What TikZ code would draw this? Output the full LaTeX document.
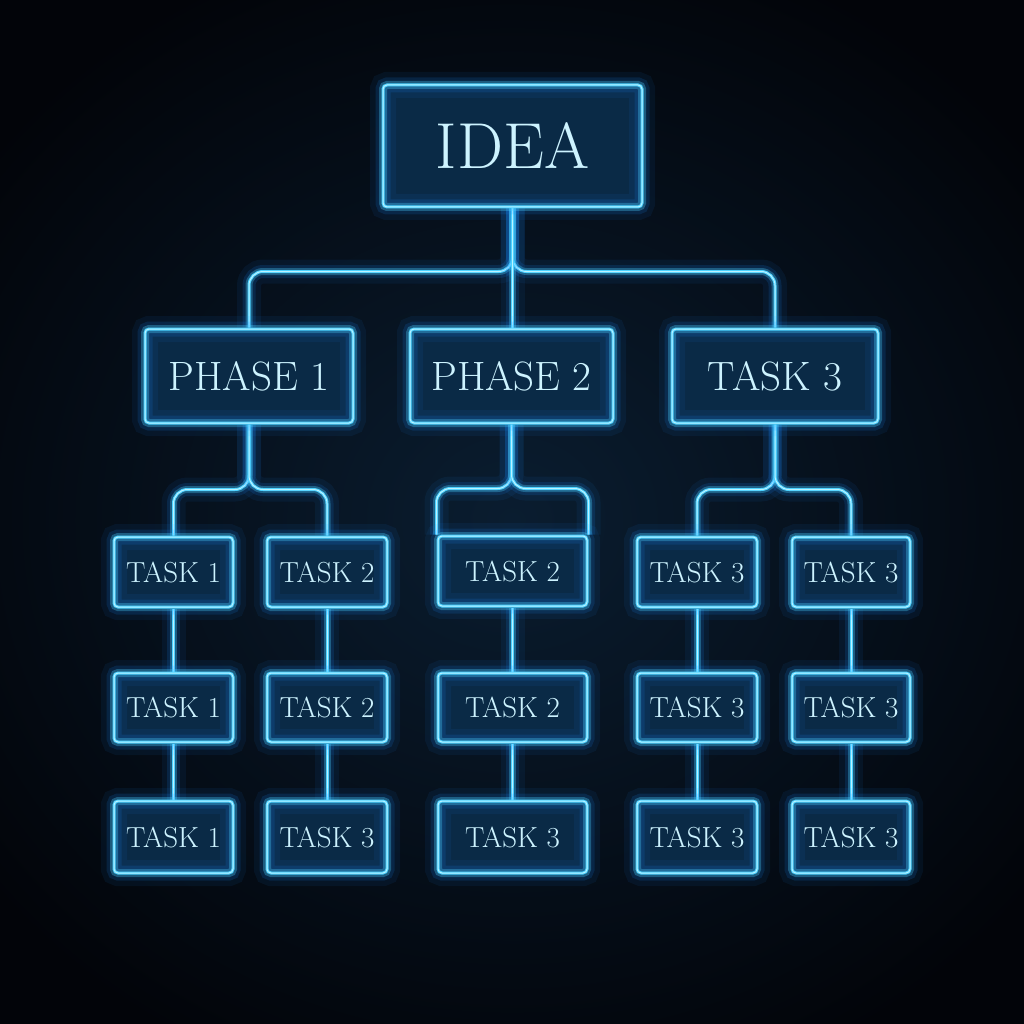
\documentclass[tikz,border=0pt]{standalone}
\usepackage{fontspec}
\usetikzlibrary{backgrounds}
\pgfdeclarelayer{bg}
\pgfsetlayers{bg,background,main}
\definecolor{bgouter}{HTML}{020409}
\definecolor{bginner}{HTML}{0A1D30}
\definecolor{boxfill}{HTML}{0A2A46}
\definecolor{neon}{HTML}{4CD2FF}
\definecolor{neoncore}{HTML}{D8FAFF}
\definecolor{glowc}{HTML}{1A8CFF}
\definecolor{txt}{HTML}{CDF3FF}
\tikzset{
  glowbox/.style={rounded corners=4pt, draw=neon, line width=3pt,
    preaction={fill=boxfill},
    preaction={draw=glowc, line width=26pt, opacity=0.07},
    preaction={draw=glowc, line width=15pt, opacity=0.14},
    preaction={draw=neon, line width=8pt, opacity=0.32},
    postaction={draw=neoncore, line width=1pt, opacity=0.8},
    text=txt, inner sep=0pt},
  wire/.style={draw=neon, line width=3pt, rounded corners=14pt,
    preaction={draw=glowc, line width=24pt, opacity=0.07},
    preaction={draw=glowc, line width=13pt, opacity=0.14},
    preaction={draw=neon, line width=7pt, opacity=0.32},
    postaction={draw=neoncore, line width=1pt, opacity=0.8}},
  ideabox/.style={glowbox, minimum width=259pt, minimum height=122pt,
    font=\fontsize{65}{65}\selectfont},
  phasebox/.style={glowbox, minimum height=94pt,
    font=\fontsize{41}{41}\selectfont},
  taskbox/.style={glowbox, minimum width=119pt,
    font=\fontsize{29}{29}\selectfont},
}
\begin{document}
\begin{tikzpicture}[x=1pt,y=-1pt]
\useasboundingbox (0,0) rectangle (1024,1024);
\begin{pgfonlayer}{bg}
  \fill[bgouter] (0,0) rectangle (1024,1024);
  \begin{scope}
    \clip (0,0) rectangle (1024,1024);
    \shade[inner color=bginner, outer color=bgouter] (-150,-80) rectangle (1174,1120);
  \end{scope}
\end{pgfonlayer}

\node[ideabox] (idea) at (512.5,146) {IDEA};

\node[phasebox, minimum width=208pt] (p1) at (249,376) {PHASE 1};
\node[phasebox, minimum width=203pt] (p2) at (511.5,376) {PHASE 2};
\node[phasebox, minimum width=206pt] (p3) at (775,376) {TASK 3};

% row 3
\node[taskbox, minimum height=70pt] (a1) at (173.5,572) {TASK 1};
\node[taskbox, minimum height=70pt, minimum width=120pt] (b1) at (327,572) {TASK 2};
\node[taskbox, minimum height=70pt, minimum width=149pt] (c1) at (512.5,571) {TASK 2};
\node[taskbox, minimum height=70pt, minimum width=120pt] (d1) at (697,572) {TASK 3};
\node[taskbox, minimum height=70pt, minimum width=118pt] (e1) at (851,572) {TASK 3};
% row 4
\node[taskbox, minimum height=69pt] (a2) at (173.5,707.5) {TASK 1};
\node[taskbox, minimum height=69pt, minimum width=120pt] (b2) at (327,707.5) {TASK 2};
\node[taskbox, minimum height=69pt, minimum width=149pt] (c2) at (512.5,707.5) {TASK 2};
\node[taskbox, minimum height=69pt, minimum width=120pt] (d2) at (697,707.5) {TASK 3};
\node[taskbox, minimum height=69pt, minimum width=118pt] (e2) at (851,707.5) {TASK 3};
% row 5
\node[taskbox, minimum height=72pt] (a3) at (173.5,837) {TASK 1};
\node[taskbox, minimum height=72pt, minimum width=120pt] (b3) at (327,837) {TASK 3};
\node[taskbox, minimum height=72pt, minimum width=149pt] (c3) at (512.5,837) {TASK 3};
\node[taskbox, minimum height=72pt, minimum width=120pt] (d3) at (697,837) {TASK 3};
\node[taskbox, minimum height=72pt, minimum width=118pt] (e3) at (851,837) {TASK 3};

\begin{pgfonlayer}{background}
  \draw[wire] (idea.south) -- ++(0,63) -| (p1.north);
  \draw[wire] (idea.south) -- ++(0,63) -| (p3.north);
  \draw[wire] (idea.south) -- (idea.south |- p2.north);

  \draw[wire] (p1.south) -- ++(0,65) -| (a1.north);
  \draw[wire] (p1.south) -- ++(0,65) -| (b1.north);
  \draw[wire] (p2.south) -- ++(0,64) -| (c1.north west);
  \draw[wire] (p2.south) -- ++(0,64) -| (c1.north east);
  \draw[wire] (p3.south) -- ++(0,65) -| (d1.north);
  \draw[wire] (p3.south) -- ++(0,65) -| (e1.north);

  \draw[wire] (a1.south) -- (a2.north);
  \draw[wire] (a2.south) -- (a3.north);
  \draw[wire] (b1.south) -- (b2.north);
  \draw[wire] (b2.south) -- (b3.north);
  \draw[wire] (c1.south) -- (c2.north);
  \draw[wire] (c2.south) -- (c3.north);
  \draw[wire] (d1.south) -- (d2.north);
  \draw[wire] (d2.south) -- (d3.north);
  \draw[wire] (e1.south) -- (e2.north);
  \draw[wire] (e2.south) -- (e3.north);
\end{pgfonlayer}
\end{tikzpicture}
\end{document}
